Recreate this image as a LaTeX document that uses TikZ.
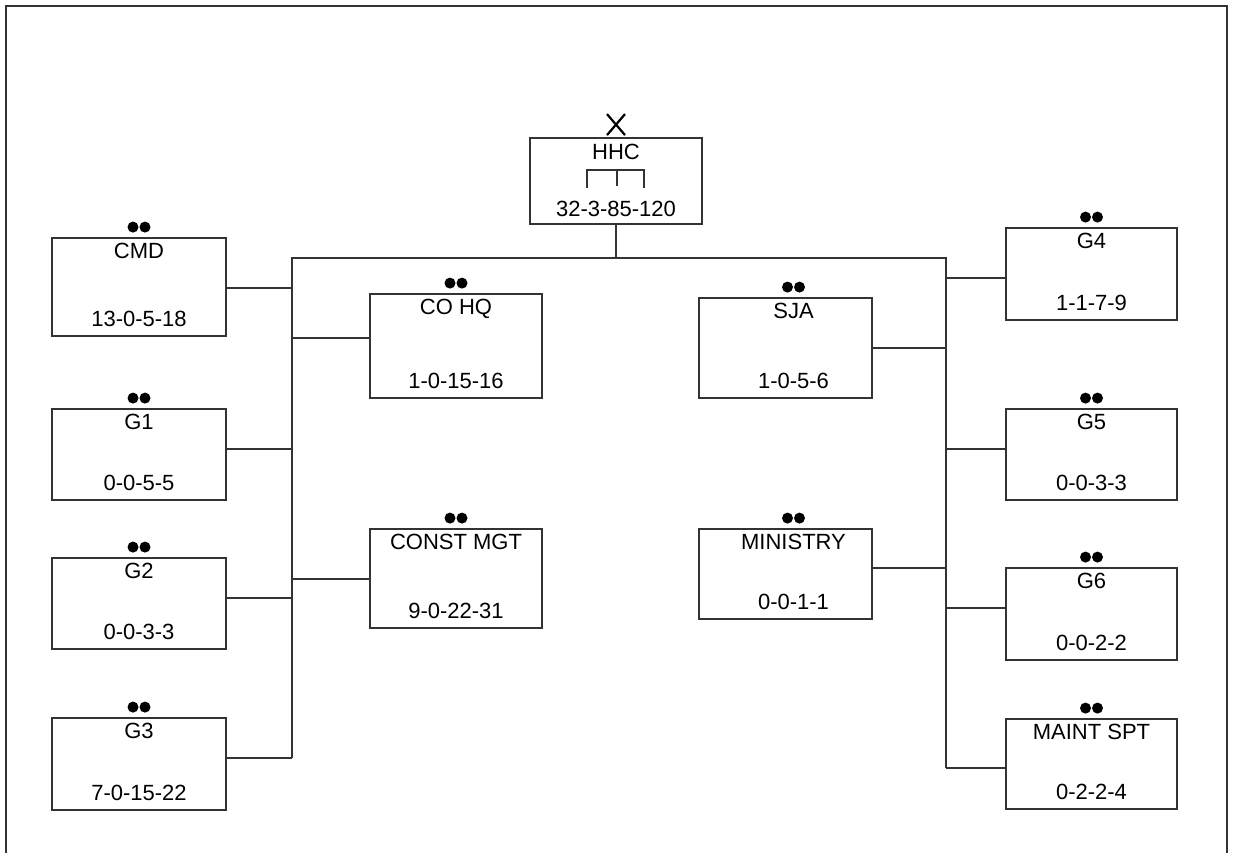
\documentclass[tikz,border=0pt]{standalone}
\usepackage{fontspec}
\setmainfont{Liberation Sans}
\usetikzlibrary{positioning, calc}
\tikzset{
  unita/.style n args={2}{draw=black!80, minimum width=#1pt, minimum height=#2pt, inner sep=0pt},
  testo/.style={anchor=base, inner sep=0pt},
  linea/.style={draw=black!80}
}
\begin{document}
\begin{tikzpicture}[x=1pt, y=-1pt, line width=1.8pt, font=\fontsize{22}{26}\selectfont]
        \useasboundingbox (0,0) rectangle (1235,853);
        %disegno cornice
        \draw[linea] (6,853)--(6,6)--(1227,6)--(1227,853);
        %disegno HHC
        \node[unita={172}{86}] (hhc) at (616,181) {};
        \node[testo] (hhc-t) at ([yshift=-22pt]hhc.north) {HHC};
        \node[testo] (hhc-n) at ([yshift=8pt]hhc.south) {32-3-85-120};
        \draw[linea] (587,188)--(587,170)--(644,170)--(644,188);
        \draw[linea] (617,170)--(617,186);
        \draw[line width=2.2pt] ([xshift=-9pt,yshift=2pt]hhc.north)--([xshift=9pt,yshift=23pt]hhc.north);
        \draw[line width=2.2pt] ([xshift=9pt,yshift=2pt]hhc.north)--([xshift=-9pt,yshift=23pt]hhc.north);
        %disegno riquadri
        \foreach \nome/\cx/\cy/\w/\h/\dx/\sigla/\num in {
            cmd/139/287/174/98/0/CMD/13-0-5-18,
            g1/139/454.5/174/91/0/G1/0-0-5-5,
            g2/139/603.5/174/91/0/G2/0-0-3-3,
            g3/139/764/174/92/0/G3/7-0-15-22,
            cohq/456/346/172/104/0/CO HQ/1-0-15-16,
            cmgt/456/578.5/172/99/0/CONST MGT/9-0-22-31,
            sja/785.5/348/173/100/8/SJA/1-0-5-6,
            minist/785.5/574/173/90/8/MINISTRY/0-0-1-1,
            g4/1091.5/274/171/92/0/G4/1-1-7-9,
            g5/1091.5/454.5/171/91/0/G5/0-0-3-3,
            g6/1091.5/614/171/92/0/G6/0-0-2-2,
            mspt/1091.5/764/171/90/0/MAINT SPT/0-2-2-4}
        {
            \node[unita={\w}{\h}] (\nome) at (\cx,\cy) {};
            \fill ([xshift=\dx pt-6pt,yshift=10pt]\nome.north) circle (5.5pt) ([xshift=\dx pt+6pt,yshift=10pt]\nome.north) circle (5.5pt);
            \node[testo] (\nome-t) at ([xshift=\dx pt,yshift=-21pt]\nome.north) {\sigla};
            \node[testo] (\nome-n) at ([xshift=\dx pt,yshift=10pt]\nome.south) {\num};
        }
        %disegno linee
        \coordinate (sx1) at (292,258);
        \coordinate (sx2) at (292,758);
        \coordinate (dx1) at (946,258);
        \coordinate (dx2) at (946,768);
        \draw[linea] (sx2)--(sx1)--(dx1)--(dx2);
        \draw[linea] (hhc.south)--(hhc.south |- sx1);
        \foreach \nome/\lato/\bus/\cy in {cmd/east/sx1/288, g1/east/sx1/449, g2/east/sx1/598, g3/east/sx1/758,
            cohq/west/sx1/338, cmgt/west/sx1/579, sja/east/dx1/348, minist/east/dx1/568,
            g4/west/dx1/278, g5/west/dx1/449, g6/west/dx1/608, mspt/west/dx1/768}
        {
            \coordinate (liv) at (0,\cy);
            \draw[linea] (\nome.\lato |- liv)--(\bus |- liv);
        }
\end{tikzpicture}
\end{document}
